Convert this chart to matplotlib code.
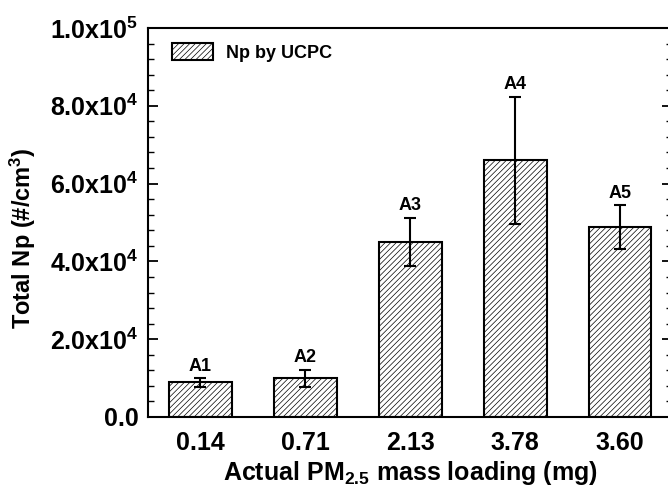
import matplotlib
matplotlib.use("Agg")
import matplotlib.pyplot as plt
from matplotlib.ticker import MultipleLocator, FuncFormatter
import numpy as np

plt.rcParams['font.family'] = ['Liberation Sans', 'DejaVu Sans']
plt.rcParams['font.weight'] = 'bold'
plt.rcParams['mathtext.fontset'] = 'custom'
plt.rcParams['mathtext.rm'] = 'Liberation Sans:bold'
plt.rcParams['mathtext.it'] = 'Liberation Sans:bold'
plt.rcParams['mathtext.bf'] = 'Liberation Sans:bold'
plt.rcParams['hatch.color'] = '#a5a5a5'
plt.rcParams['hatch.linewidth'] = 0.5

# PM2.5 loading per sample and UCPC counts
loadings = ['0.14', '0.71', '2.13', '3.78', '3.60']
samples = ['A1', 'A2', 'A3', 'A4', 'A5']
np_mean = [8.9e3, 1.0e4, 4.5e4, 6.6e4, 4.88e4]
np_err = [1.1e3, 2.2e3, 6.2e3, 16.3e3, 5.7e3]

fig = plt.figure(figsize=(6.68, 4.93), dpi=100)
ax = fig.add_axes([0.2216, 0.1542, 0.785, 0.789])

x = np.arange(len(loadings))
ax.bar(x, np_mean, width=0.6, color='white', edgecolor='black', linewidth=1.5,
       hatch='//////', label='Np by UCPC', zorder=2)
ax.errorbar(x, np_mean, yerr=np_err, fmt='none', ecolor='black', elinewidth=1.5,
            capsize=4.5, capthick=1.5, zorder=3)

for xi, m, e, s in zip(x, np_mean, np_err, samples):
    ax.annotate(s, (xi, m + e), xytext=(0, 2.5), textcoords='offset points',
                ha='center', va='bottom', fontsize=13, fontweight='bold')

ax.set_xlim(-0.5, 4.5)
ax.set_ylim(0, 1.0e5)
ax.set_xticks(x)
ax.set_xticklabels(loadings)

def sci_fmt(v, pos):
    if v < 1:
        return '0.0'
    e = int(np.floor(np.log10(v) + 1e-9))
    return r'$%.1f\mathrm{x}10^{%d}$' % (v / 10**e, e)

ax.yaxis.set_major_locator(MultipleLocator(2e4))
ax.yaxis.set_minor_locator(MultipleLocator(4e3))
ax.yaxis.set_major_formatter(FuncFormatter(sci_fmt))

ax.tick_params(axis='y', which='major', direction='in', length=7, width=1.3,
               labelsize=18, right=True, pad=7)
ax.tick_params(axis='y', which='minor', direction='in', length=4, width=1.0,
               right=True)
ax.tick_params(axis='x', which='both', length=0, labelsize=18, pad=10)

for sp in ax.spines.values():
    sp.set_linewidth(1.5)

ax.set_xlabel('Actual PM$_{2.5}$ mass loading (mg)', fontsize=18, fontweight='bold',
              labelpad=3)
ax.set_ylabel('Total Np (#/cm$^3$)', fontsize=17, fontweight='bold')
ax.yaxis.set_label_coords(-0.21, 0.46)

ax.legend(loc='upper left', bbox_to_anchor=(0.017, 1.0), frameon=False,
          handlelength=2.3, handleheight=1.1, handletextpad=0.7,
          borderaxespad=0.42, prop={'weight': 'bold', 'size': 13})

fig.savefig('out.png', dpi=100)
